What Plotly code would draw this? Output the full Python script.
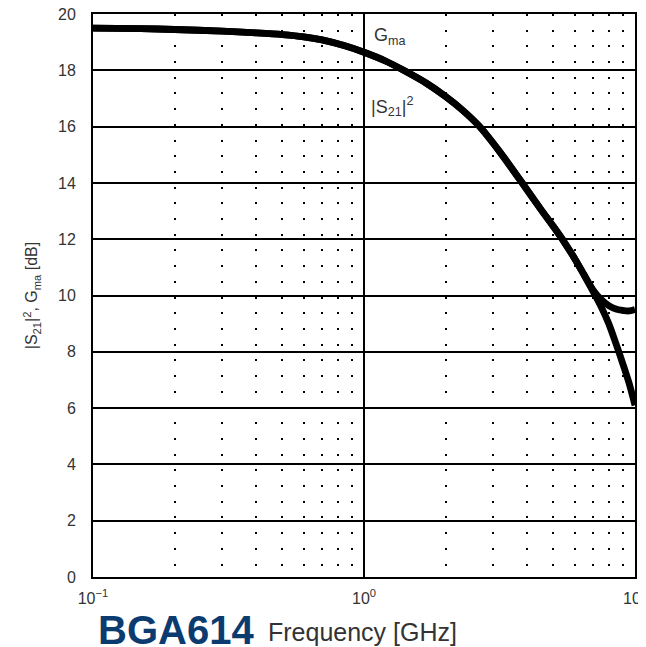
import plotly.graph_objects as go

# Frequency points [GHz] where both curves coincide
freq_common = [0.1, 0.15, 0.2, 0.3, 0.4, 0.5, 0.6, 0.7, 0.85, 1.0, 1.2, 1.4,
               1.7, 2.0, 2.3, 2.66, 3.2, 3.82, 4.5, 5.0, 5.48, 6.0, 6.5]
val_common = [19.5, 19.48, 19.45, 19.39, 19.33, 19.27, 19.19, 19.08, 18.87, 18.64,
              18.33, 18.0, 17.54, 17.07, 16.6, 16.02, 15.05, 14.02, 13.05, 12.45,
              11.9, 11.3, 10.72]

# High-frequency ends where the curves split
freq_hi = [7.0, 7.5, 8.0, 8.5, 9.0, 9.5, 10.0]
s21_hi = [10.15, 9.6, 9.0, 8.3, 7.6, 6.9, 6.1]      # |S21|^2 [dB]
gma_hi = [10.2, 9.86, 9.64, 9.52, 9.47, 9.45, 9.5]  # Gma [dB]

freq = freq_common + freq_hi
s21 = val_common + s21_hi
gma = val_common + gma_hi

y_ticks = [0, 2, 4, 6, 8, 10, 12, 14, 16, 18, 20]

fig = go.Figure()
fig.add_trace(go.Scatter(x=freq, y=gma, mode="lines", name="Gma",
                         line=dict(color="black", width=6.8, shape="spline",
                                   smoothing=0.8),
                         showlegend=False))
fig.add_trace(go.Scatter(x=freq, y=s21, mode="lines", name="|S21|^2",
                         line=dict(color="black", width=6.8, shape="spline",
                                   smoothing=0.8),
                         showlegend=False))

font_fam = "Liberation Sans, Arial, sans-serif"

# page has an 8px body margin: figure sits at (8, 8)
W, H = 638, 639
L, R, T, B = 85, 11, 6, 70

fig.update_layout(
    width=W, height=H,
    margin=dict(l=L, r=R, t=T, b=B, autoexpand=False),
    paper_bgcolor="white", plot_bgcolor="white",
    font=dict(family=font_fam, color="#333333", size=16),
    xaxis=dict(
        type="log", range=[-1, 1], automargin=False,
        tickvals=[0.1, 1, 10],
        ticktext=["10<sup>−1</sup>", "10<sup>0</sup>", "10<sup>1</sup>"],
        showgrid=True, gridcolor="black", gridwidth=1.5,
        showline=True, linecolor="black", linewidth=2, mirror=True,
        ticks="", ticklabelstandoff=6, ticklabeloverflow="allow",
        minor=dict(dtick="D1", showgrid=True, gridcolor="black",
                   gridwidth=2.2, griddash="2px,13.7px", ticks=""),
        zeroline=False,
    ),
    yaxis=dict(
        range=[0, 20], tickvals=y_ticks, automargin=False,
        showgrid=True, gridcolor="black", gridwidth=1.5,
        showline=True, linecolor="black", linewidth=2, mirror=True,
        ticks="", ticklabelstandoff=12, ticklabeloverflow="allow",
        zeroline=False,
        title=dict(text="|S<sub>21</sub>|<sup>2</sup>, G<sub>ma</sub> [dB]",
                   font=dict(size=16, color="#333333"), standoff=16),
    ),
)

fig.add_annotation(x=0, xref="x", y=19.2, yref="y", text="G<sub>ma</sub>",
                   showarrow=False, xanchor="left", yanchor="middle",
                   xshift=8, font=dict(size=18, color="#333333"))
fig.add_annotation(x=0, xref="x", y=16.7, yref="y",
                   text="|S<sub>21</sub>|<sup>2</sup>",
                   showarrow=False, xanchor="left", yanchor="middle",
                   xshift=5, font=dict(size=18, color="#333333"))

fig.add_annotation(x=96, xref="paper", y=630, yref="paper", text="<b>BGA614</b>",
                   showarrow=False, xanchor="left", yanchor="middle",
                   font=dict(size=40, color="#0b3b6f", family=font_fam))
fig.add_annotation(x=266, xref="paper", y=632, yref="paper", text="Frequency [GHz]",
                   showarrow=False, xanchor="left", yanchor="middle",
                   font=dict(size=25, color="#333333"))

# convert page-pixel positions for the bottom text into paper coords
x0, y_bot = 8 + L, 8 + H - B
pw = W - L - R
ph = H - T - B
for ann in fig.layout.annotations[2:]:
    ann.x = (ann.x - x0) / pw
    ann.y = (y_bot - ann.y) / ph

fig.write_html("out.html")
